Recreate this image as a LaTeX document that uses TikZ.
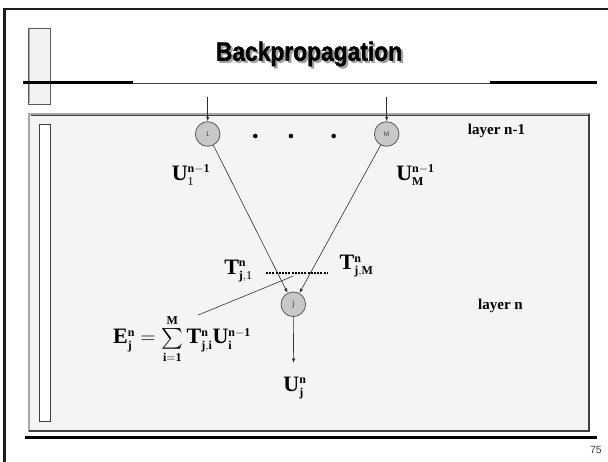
\documentclass[tikz,border=0pt]{standalone}
\usepackage{graphicx}
\usepackage{exscale}
\usepackage{fontspec}
\setmainfont{Liberation Serif}
\newfontfamily\sansf{Liberation Sans}
\newfontfamily\titlef[FakeBold=1.5]{Liberation Sans}
\usetikzlibrary{arrows.meta}
\DeclareMathSizes{22}{22}{12}{9}
\newcommand{\eqfont}{\fontsize{22}{26}\selectfont}
\definecolor{panelbg}{HTML}{F4F4F4}
\definecolor{boxbg}{HTML}{F2F2F2}
\definecolor{nodefill}{HTML}{C8C8C8}
\definecolor{nodeedge}{HTML}{5A5A5A}
\definecolor{nodetext}{HTML}{404040}
\definecolor{lineclr}{HTML}{303030}
\definecolor{frameclr}{HTML}{1E1E1E}
\definecolor{shadowclr}{HTML}{A0A0A0}
\definecolor{edgelight}{HTML}{A8A8A8}
\definecolor{edgedark}{HTML}{404040}
\tikzset{
  neuron/.style={circle, minimum size=24.6pt, inner sep=0pt, fill=nodefill, draw=nodeedge, line width=0.8pt, text=nodetext, font=\sansf\fontsize{6.5}{7}\selectfont},
  conn/.style={draw=lineclr, line width=0.6pt},
  arr/.style={conn, -{Latex[length=4.5pt,width=3.4pt]}},
  lab/.style={inner sep=0pt, font=\eqfont},
  layerlab/.style={inner sep=0pt, anchor=base, font=\bfseries\fontsize{15}{18}\selectfont},
  bigdot/.style={circle, fill=black, inner sep=0pt, minimum size=4.6pt},
  dotline/.style={line width=2.2pt, dash pattern=on 2pt off 1.2pt},
  titletxt/.style={inner sep=0pt, anchor=base, font=\titlef\bfseries\fontsize{26.5}{30}\selectfont},
}
\begin{document}
\begin{tikzpicture}[x=1pt,y=-1pt]
\useasboundingbox (0,0) rectangle (608,462);
\clip (0,0) rectangle (608,462);
\fill[white] (0,0) rectangle (608,462);
% outer frame
\draw[frameclr, line width=2.2pt] (4.5,480) -- (4.5,9) -- (620,9);
% small box top-left
\draw[fill=boxbg, draw=nodeedge, line width=0.8pt] (28,28) rectangle (50,104);
\draw[edgelight, line width=1.2pt] (29.2,29) -- (29.2,103);
% title with shadow
\node[titletxt, text=shadowclr] (titlesh) at (311.2,62.8) {\scalebox{0.86}[1]{Backpropagation}};
\node[titletxt] (title) at (309,60.7) {\scalebox{0.86}[1]{Backpropagation}};
% title rule
\draw[black, line width=2.6pt] (23,82.5) -- (133,82.5);
\draw[black, line width=2.6pt] (490,82.5) -- (597,82.5);
\draw[edgedark, line width=1.4pt] (133,83.5) -- (490,83.5);
% panel
\draw[fill=panelbg, draw=edgelight, line width=1.2pt] (29,114) rectangle (589,431);
\draw[edgedark, line width=1.2pt] (589,114) -- (589,431) -- (29,431);
\draw[edgedark, line width=0.6pt] (30.5,115.5) -- (587.5,115.5);
% inner strip
\draw[fill=white, draw=edgedark, line width=0.8pt] (39,124) rectangle (50,421);
% bottom rule
\draw[black, line width=3pt] (25,437) -- (597,437);
\node[inner sep=0pt, anchor=base east, font=\sansf\fontsize{10.5}{12}\selectfont, text=nodetext] (pagenum) at (602,453.5) {75};
% neurons
\node[neuron] (n1) at (207.7,134) {1};
\node[neuron] (nM) at (386.7,134) {M};
\node[neuron, font=\fontsize{9}{10}\selectfont] (nj) at (293.3,304.3) {j};
\node[bigdot] (dot1) at (255.3,136) {};
\node[bigdot] (dot2) at (291,136) {};
\node[bigdot] (dot3) at (333.7,136) {};
% coordinates
\coordinate (in1) at (207.7,97);
\coordinate (inM) at (386.7,97);
\coordinate (outj) at (293.6,363);
\coordinate (tx1) at (293.3,276);
\coordinate (tx2) at (198.3,315);
\coordinate (d1) at (266,273);
\coordinate (d2) at (327,273);
% connectors
\draw[arr] (in1) -- (n1);
\draw[arr] (inM) -- (nM);
\draw[arr] (n1) -- (nj);
\draw[arr] (nM) -- (nj);
\draw[arr] (nj) -- (outj);
\draw[conn] (tx1) -- (tx2);
\draw[dotline] (d1) -- (d2);
% labels
\node[layerlab] (l1) at (496.5,134.5) {layer n-1};
\node[layerlab] (l2) at (500.5,309.5) {layer n};
\node[lab] (u1) at (191,175) {$\mathbf{U}_{\mathrm{1}}^{\mathbf{n-1}}$};
\node[lab] (uM) at (415.5,175) {$\mathbf{U}_{\mathbf{M}}^{\mathbf{n-1}}$};
\node[lab] (t1) at (238.5,271) {$\mathbf{T}_{\mathbf{j,}\mathrm{1}}^{\mathbf{n}}$};
\node[lab] (tM) at (356.5,266.5) {$\mathbf{T}_{\mathbf{j,M}}^{\mathbf{n}}$};
\node[lab] (eq) at (182,339) {$\mathbf{E}_{\mathbf{j}}^{\mathbf{n}} = \sum\limits_{\mathbf{i=1}}^{\mathbf{M}} \mathbf{T}_{\mathbf{j,i}}^{\mathbf{n}}\mathbf{U}_{\mathbf{i}}^{\mathbf{n-1}}$};
\node[lab] (uj) at (295,388) {$\mathbf{U}_{\mathbf{j}}^{\mathbf{n}}$};
\end{tikzpicture}
\end{document}
